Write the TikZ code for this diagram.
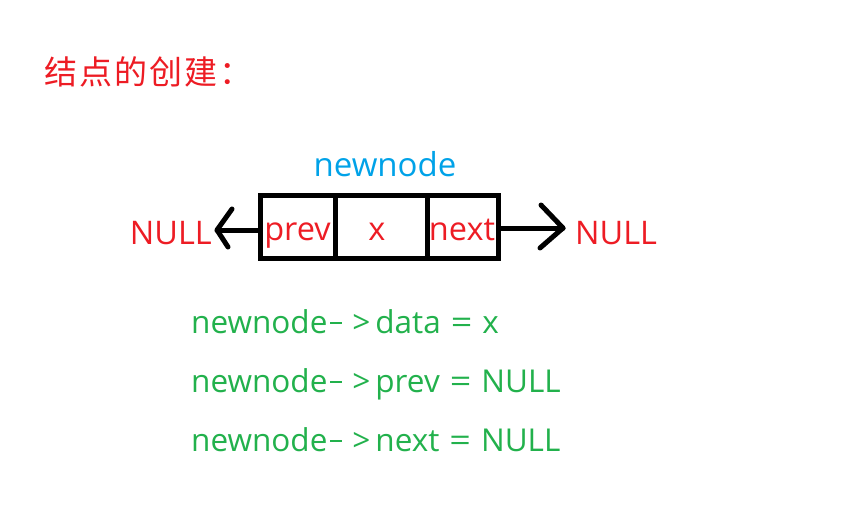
\documentclass[tikz,border=0pt]{standalone}
\usepackage{fontspec}
\setmainfont{Open Sans}
\newfontfamily\cjk[LetterSpace=6]{Noto Sans CJK SC}
\definecolor{pred}{RGB}{237,28,36}
\definecolor{pblue}{RGB}{0,162,232}
\definecolor{pgreen}{RGB}{34,177,76}
\newcommand\arw{\kern3pt\rule[8.7pt]{12pt}{2.6pt}\kern10pt>\kern5pt}
\newcommand\eqs{\kern10pt\scalebox{1.2}[1]{=}\kern10pt}
\begin{document}
\begin{tikzpicture}[x=1pt,y=-1pt,
  cell/.style={draw=black,line width=5pt,minimum height=63pt,inner sep=0pt},
  lbl/.style={anchor=base,inner sep=0pt,text=pred,font=\fontsize{32.5}{32.5}\selectfont},
  code/.style={anchor=base west,inner sep=0pt,text=pgreen,font=\fontsize{31.5}{31.5}\selectfont},
  wire/.style={line width=5pt,line cap=round,line join=round}]
\useasboundingbox (0,0) rectangle (852,522);
\node[anchor=base west,inner sep=0pt,text=pred,font=\cjk\fontsize{33}{33}\selectfont] (title) at (44,84) {结点的创建：};
\node[anchor=base,inner sep=0pt,text=pblue,font=\fontsize{33}{33}\selectfont] (name) at (385,176) {newnode};
\node[cell,minimum width=75pt] (prevcell) at (297.5,226.5) {};
\node[cell,minimum width=92pt] (xcell) at (381,226.5) {};
\node[cell,minimum width=71.5pt] (nextcell) at (462.75,226.5) {};
\node[lbl] (tprev) at (297.5,240) {prev};
\node[lbl] (tx) at (377,240) {x};
\node[lbl] (tnext) at (462,240) {next};
\node[lbl,anchor=base east] (nullL) at (212,244) {NULL};
\node[lbl,anchor=base west] (nullR) at (575,244) {NULL};
\coordinate (tipL) at (217,230);
\coordinate (tipR) at (563,228);
\draw[wire] (prevcell.west |- tipL) -- (tipL);
\draw[wire] (232,209) -- (tipL) -- (228,247);
\draw[wire] (nextcell.east |- tipR) -- (tipR);
\draw[wire] (541,205) -- (tipR) -- (540,248);
\node[code] (c1) at (191,333) {newnode\arw data\eqs x};
\node[code] (c2) at (191,392) {newnode\arw prev\eqs NULL};
\node[code] (c3) at (191,451) {newnode\arw next\eqs NULL};
\end{tikzpicture}
\end{document}
